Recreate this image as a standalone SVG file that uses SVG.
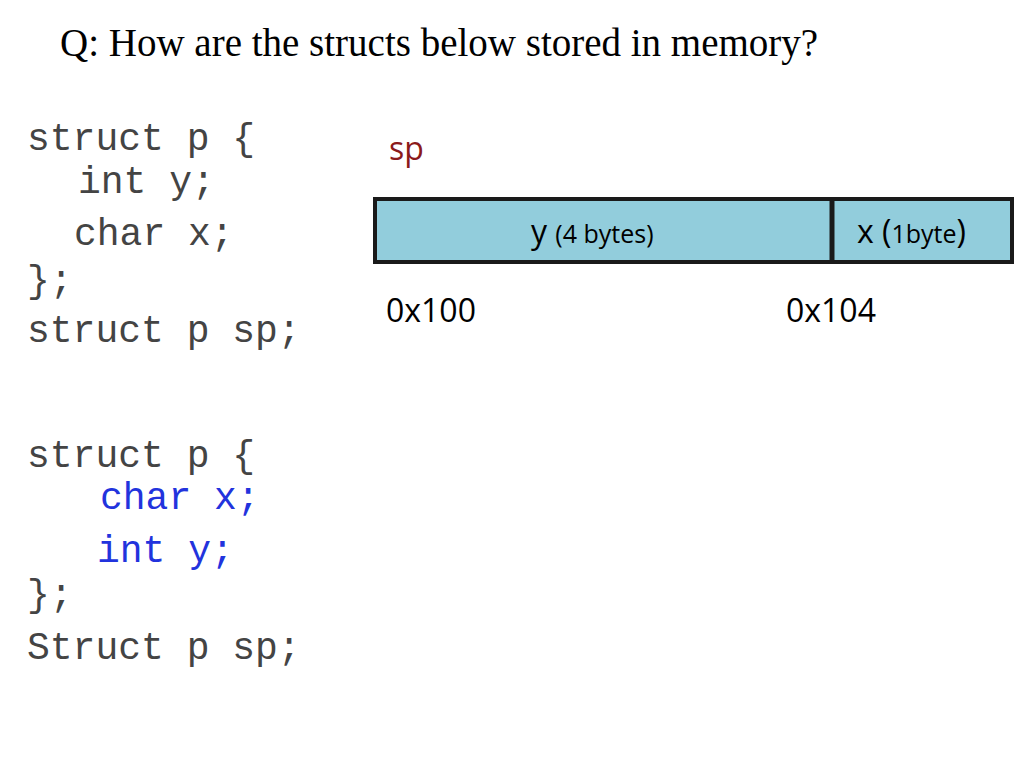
<svg xmlns="http://www.w3.org/2000/svg" width="1024" height="768" viewBox="0 0 1024 768">
<style>
.t{font-family:"Liberation Serif",serif;font-size:39px;fill:#000}
.c{font-family:"Liberation Mono",monospace;font-size:38px;fill:#444}
.b{fill:#2233dd}
.s{font-family:"Open Sans","Noto Sans",sans-serif;fill:#000}
</style>
<rect width="1024" height="768" fill="#fff"/>
<text class="t" x="60" y="56">Q: How are the structs below stored in memory?</text>
<g id="code1">
<text class="c" x="27" y="150">struct p {</text>
<text class="c" x="78" y="193">int y;</text>
<text class="c" x="74" y="245">char x;</text>
<text class="c" x="27" y="292">};</text>
<text class="c" x="27" y="342">struct p sp;</text>
</g>
<g id="code2">
<text class="c" x="27" y="467">struct p {</text>
<text class="c b" x="100" y="509">char x;</text>
<text class="c b" x="97" y="562">int y;</text>
<text class="c" x="27" y="606">};</text>
<text class="c" x="27" y="659">Struct p sp;</text>
</g>
<g id="mem">
<text class="s" x="389" y="160" font-size="32" style="fill:#8b1a1a">sp</text>
<rect x="375" y="199" width="637" height="63" fill="#92cddc" stroke="#1a1a1a" stroke-width="4"/>
<line x1="832" y1="199" x2="832" y2="262" stroke="#1a1a1a" stroke-width="5"/>
<text class="s" x="531" y="243" font-size="32">y <tspan font-size="25">(4 bytes)</tspan></text>
<text class="s" x="857" y="243" font-size="32">x (<tspan font-size="25">1byte</tspan>)</text>
<text class="s" x="386" y="322" font-size="32">0x100</text>
<text class="s" x="786" y="322" font-size="32">0x104</text>
</g>
</svg>
